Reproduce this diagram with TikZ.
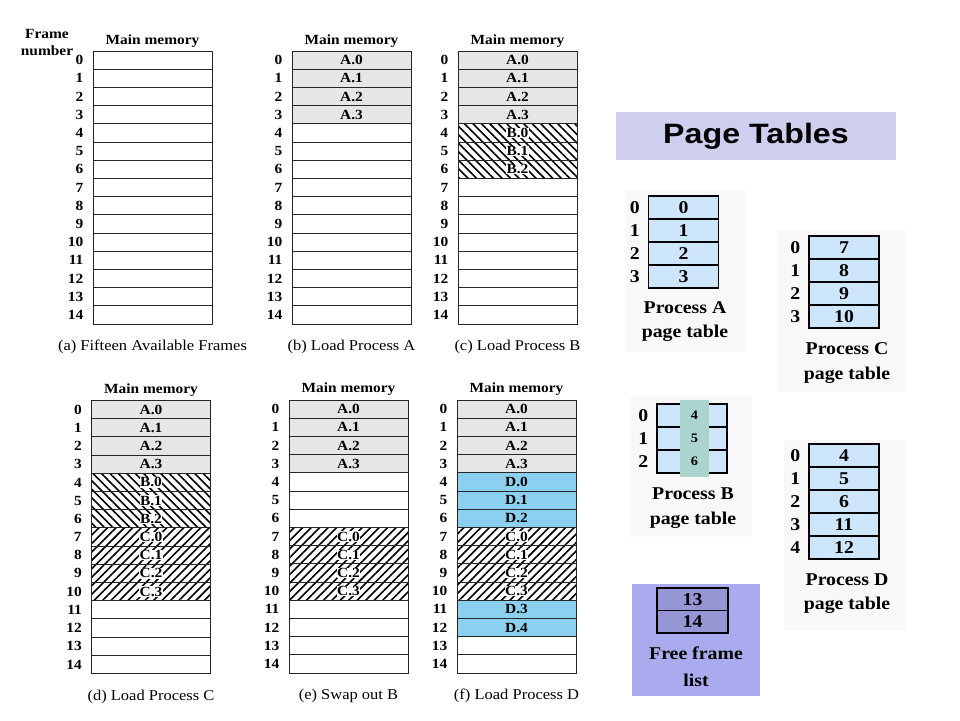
\documentclass[tikz,border=0pt]{standalone}
\usepackage{fontspec}
\setmainfont{Liberation Serif}[FakeStretch=1.1]
\newfontfamily\titlefont{Liberation Sans}[FakeStretch=1.15]
\usetikzlibrary{positioning,patterns.meta}

\definecolor{pagegray}{RGB}{230,230,233}
\definecolor{dblue}{RGB}{140,208,240}
\definecolor{tblue}{RGB}{206,230,252}
\definecolor{titlebg}{RGB}{206,206,238}
\definecolor{freebg}{RGB}{170,170,238}
\definecolor{freecell}{RGB}{150,150,212}
\definecolor{bcol}{RGB}{172,212,206}
\definecolor{panelbg}{RGB}{248,248,248}

\begin{document}
\begin{tikzpicture}[x=1pt,y=-1pt,
    memcell/.style={draw=black!85, line width=0.9pt, minimum width=119pt, minimum height=18.2pt, inner sep=0pt, font=\fontsize{14}{14}\selectfont\bfseries},
    apage/.style={memcell, fill=pagegray},
    bpage/.style={memcell, pattern={Lines[angle=-45,distance=6pt,line width=1.6pt]}},
    cpage/.style={memcell, pattern={Lines[angle=45,distance=6pt,line width=1.6pt]}},
    dpage/.style={memcell, fill=dblue},
    hatchlab/.style={fill=white, inner sep=0.4pt, font=\fontsize{14}{14}\selectfont\bfseries},
    idx/.style={inner sep=0pt, font=\fontsize{14}{14}\selectfont\bfseries},
    memtitle/.style={font=\fontsize{14}{14}\selectfont\bfseries},
    memcap/.style={font=\fontsize{15}{15}\selectfont},
    tcell/.style={draw, line width=1.2pt, fill=tblue, minimum width=70pt, minimum height=23pt, inner sep=0pt, font=\fontsize{18}{18}\selectfont\bfseries},
    tidx/.style={inner sep=0pt, font=\fontsize{18}{18}\selectfont\bfseries},
    tcap/.style={anchor=base, inner sep=0pt, font=\fontsize{18}{18}\selectfont\bfseries}]
\useasboundingbox (0,0) rectangle (960,720);

% (a) fifteen available frames
\node[idx, align=center, font=\fontsize{14}{17}\selectfont\bfseries] (fnum) at (47,43) {Frame\\number};
\node[memtitle] (mma) at (152.5,41) {Main memory};
\foreach \i in {0,...,14}
    \node[memcell] (a\i) at (152.5,{60.1+18.2*\i}) {};
\foreach \i in {0,...,14}
    \node[idx, left=9pt of a\i] (na\i) {\i};
\node[memcap] (capa) at (152.5,347) {(a) Fifteen Available Frames};

% (b) load process A
\node[memtitle] (mmb) at (351.5,41) {Main memory};
\foreach \i in {0,...,3}
    \node[apage] (b\i) at (351.5,{60.1+18.2*\i}) {A.\i};
\foreach \i in {4,...,14}
    \node[memcell] (b\i) at (351.5,{60.1+18.2*\i}) {};
\foreach \i in {0,...,14}
    \node[idx, left=9pt of b\i] (nb\i) {\i};
\node[memcap] (capb) at (351.5,347) {(b) Load Process A};

% (c) load process B
\node[memtitle] (mmc) at (517.5,41) {Main memory};
\foreach \i in {0,...,3}
    \node[apage] (c\i) at (517.5,{60.1+18.2*\i}) {A.\i};
\foreach \i [evaluate=\i as \k using int(\i-4)] in {4,...,6}{
    \node[bpage] (c\i) at (517.5,{60.1+18.2*\i}) {};
    \node[hatchlab] (lc\i) at (c\i) {B.\k};
}
\foreach \i in {7,...,14}
    \node[memcell] (c\i) at (517.5,{60.1+18.2*\i}) {};
\foreach \i in {0,...,14}
    \node[idx, left=9pt of c\i] (nc\i) {\i};
\node[memcap] (capc) at (517.5,347) {(c) Load Process B};

% (d) load process C
\node[memtitle] (mmd) at (151,390) {Main memory};
\foreach \i in {0,...,3}
    \node[apage] (d\i) at (151,{409.6+18.2*\i}) {A.\i};
\foreach \i [evaluate=\i as \k using int(\i-4)] in {4,...,6}{
    \node[bpage] (d\i) at (151,{409.6+18.2*\i}) {};
    \node[hatchlab] (ld\i) at (d\i) {B.\k};
}
\foreach \i [evaluate=\i as \k using int(\i-7)] in {7,...,10}{
    \node[cpage] (d\i) at (151,{409.6+18.2*\i}) {};
    \node[hatchlab] (ld\i) at (d\i) {C.\k};
}
\foreach \i in {11,...,14}
    \node[memcell] (d\i) at (151,{409.6+18.2*\i}) {};
\foreach \i in {0,...,14}
    \node[idx, left=9pt of d\i] (nd\i) {\i};
\node[memcap] (capd) at (151,697) {(d) Load Process C};

% (e) swap out B
\node[memtitle] (mme) at (348.5,389) {Main memory};
\foreach \i in {0,...,3}
    \node[apage] (e\i) at (348.5,{409.1+18.2*\i}) {A.\i};
\foreach \i in {4,...,6}
    \node[memcell] (e\i) at (348.5,{409.1+18.2*\i}) {};
\foreach \i [evaluate=\i as \k using int(\i-7)] in {7,...,10}{
    \node[cpage] (e\i) at (348.5,{409.1+18.2*\i}) {};
    \node[hatchlab] (le\i) at (e\i) {C.\k};
}
\foreach \i in {11,...,14}
    \node[memcell] (e\i) at (348.5,{409.1+18.2*\i}) {};
\foreach \i in {0,...,14}
    \node[idx, left=9pt of e\i] (ne\i) {\i};
\node[memcap] (cape) at (348.5,696) {(e) Swap out B};

% (f) load process D
\node[memtitle] (mmf) at (516.5,389) {Main memory};
\foreach \i in {0,...,3}
    \node[apage] (f\i) at (516.5,{409.1+18.2*\i}) {A.\i};
\foreach \i [evaluate=\i as \k using int(\i-4)] in {4,...,6}
    \node[dpage] (f\i) at (516.5,{409.1+18.2*\i}) {D.\k};
\foreach \i [evaluate=\i as \k using int(\i-7)] in {7,...,10}{
    \node[cpage] (f\i) at (516.5,{409.1+18.2*\i}) {};
    \node[hatchlab] (lf\i) at (f\i) {C.\k};
}
\foreach \i [evaluate=\i as \k using int(\i-8)] in {11,12}
    \node[dpage] (f\i) at (516.5,{409.1+18.2*\i}) {D.\k};
\foreach \i in {13,14}
    \node[memcell] (f\i) at (516.5,{409.1+18.2*\i}) {};
\foreach \i in {0,...,14}
    \node[idx, left=9pt of f\i] (nf\i) {\i};
\node[memcap] (capf) at (516.5,696) {(f) Load Process D};

% page tables
\node[fill=titlebg, minimum width=280pt, minimum height=48pt, font=\titlefont\fontsize{28}{28}\selectfont\bfseries] (title) at (756,136) {Page Tables};

\fill[panelbg] (626,190) rectangle (745,352);
\fill[panelbg] (778,230) rectangle (905,392);
\fill[panelbg] (630,397) rectangle (752,537);
\fill[panelbg] (784,440) rectangle (906,630);

% process A
\foreach \i in {0,...,3}
    \node[tcell] (pa\i) at (683.5,{207.5+23*\i}) {\i};
\foreach \i in {0,...,3}
    \node[tidx, left=8pt of pa\i] (ipa\i) {\i};
\node[tcap] (capa1) at (685,313) {Process A};
\node[tcap] (capa2) at (685,337) {page table};

% process C
\foreach \i/\fr in {0/7,1/8,2/9,3/10}
    \node[tcell] (pc\i) at (844,{247.5+23*\i}) {\fr};
\foreach \i in {0,...,3}
    \node[tidx, left=8pt of pc\i] (ipc\i) {\i};
\node[tcap] (capc1) at (847,354) {Process C};
\node[tcap] (capc2) at (847,379) {page table};

% process B
\foreach \i in {0,...,2}
    \node[tcell] (pb\i) at (692,{415.5+23*\i}) {};
\foreach \i in {0,...,2}
    \node[tidx, left=8pt of pb\i] (ipb\i) {\i};
\fill[bcol] (680,400) rectangle (709,477);
\foreach \i/\fr in {0/4,1/5,2/6}
    \node[inner sep=0pt, font=\fontsize{13}{13}\selectfont\bfseries] (fb\i) at (694.5,{415.5+23*\i}) {\fr};
\node[tcap] (capb1) at (693,499) {Process B};
\node[tcap] (capb2) at (693,524) {page table};

% process D
\foreach \i/\fr in {0/4,1/5,2/6,3/11,4/12}
    \node[tcell] (pd\i) at (844,{455.5+23*\i}) {\fr};
\foreach \i in {0,...,4}
    \node[tidx, left=8pt of pd\i] (ipd\i) {\i};
\node[tcap] (capd1) at (847,585) {Process D};
\node[tcap] (capd2) at (847,609) {page table};

% free frame list
\fill[freebg] (632,584) rectangle (760,696);
\foreach \i/\fr in {0/13,1/14}
    \node[tcell, fill=freecell, minimum width=71pt, minimum height=22.5pt] (fl\i) at (692.5,{599.25+22.5*\i}) {\fr};
\node[tcap] (capl1) at (696,659) {Free frame};
\node[tcap] (capl2) at (696,686) {list};
\end{tikzpicture}
\end{document}
